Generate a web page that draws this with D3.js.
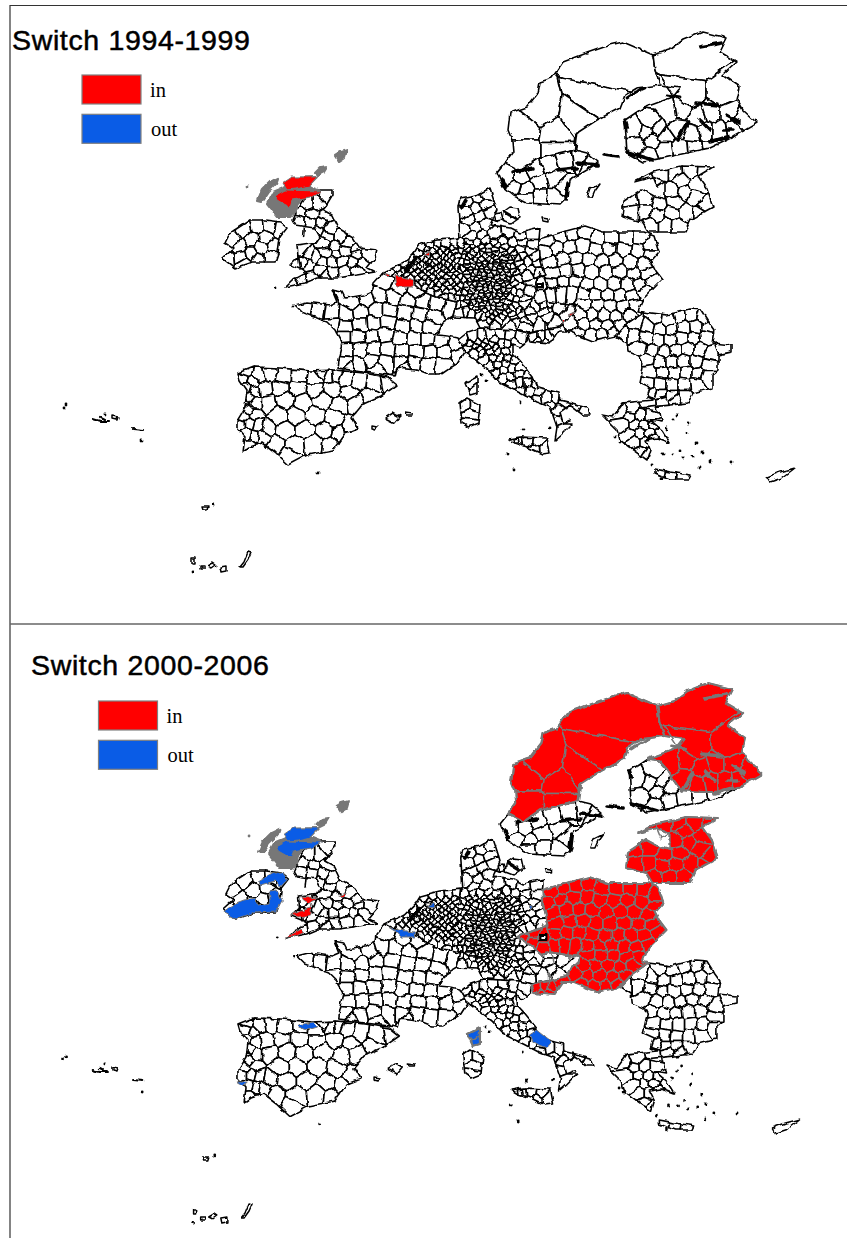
<!DOCTYPE html>
<html>
<head>
<meta charset="utf-8">
<script src="https://cdn.jsdelivr.net/npm/d3@7"></script>
<style>
body { margin: 0; background: #fff; }
svg { display: block; }
</style>
</head>
<body>
<svg id="chart" width="847" height="1238"></svg>
<script>
// Map geometry, in map units

const titles = ['Switch 1994-1999', 'Switch 2000-2006'];
const legendLabels = ['in', 'out'];

const swedenN = [[623,42],[610,45],[587,53],[563,62],[552,78],[540,82],[538,93],[527,107],[510,113],[508,130],[512,140],[513,152],[505,163],[520,171],[537,159],[575,150],[577,133],[597,120],[620,108],[625,95],[637,88],[660,85],[655,70],[653,55],[637,48]];
const swedenNSeeds = [[596,68],[590,100],[540,112],[578,118],[525,130],[555,135],[525,150],[555,150]];
const swedenS = [[505,163],[520,171],[537,159],[575,150],[587,153],[598,162],[587,170],[570,180],[568,197],[560,205],[527,203],[515,197],[503,187],[497,173]];
const swedenSSeeds = [[520,178],[535,170],[550,165],[565,160],[580,158],[590,163],[510,178],[525,190],[540,182],[555,178],[563,187],[540,196],[525,198],[555,197],[515,187]];
const finlandN = [[653,55],[670,50],[683,40],[703,32],[727,38],[720,52],[737,62],[723,75],[740,87],[737,100],[743,110],[757,123],[733,137],[715,141],[698,141],[676,139],[669,129],[663,119],[654,109],[643,108],[673,97],[680,88],[660,85],[655,70]];
const finlandNSeeds = [[695,60],[690,98],[722,98],[668,112],[682,110],[697,118],[712,113],[728,113],[742,120],[680,128],[692,133],[706,130],[720,130],[733,128]];
const finlandS = [[625,120],[643,108],[654,109],[663,119],[669,129],[676,139],[698,141],[715,141],[733,137],[710,148],[677,155],[643,162],[627,153]];
const finlandSSeeds = [[635,130],[650,122],[645,132],[658,130],[637,145],[652,140],[665,135],[665,150],[680,148],[695,147],[712,145],[650,155]];
const baltics = [[634,182],[653,172],[682,166],[713,167],[698,176],[707,189],[713,207],[691,219],[685,232],[648,232],[642,222],[622,216],[624,201],[642,189],[655,196],[665,199],[665,182],[653,177]];
const balticsSeeds = [[645,178],[660,172],[675,172],[690,171],[705,172],[698,185],[680,180],[672,190],[684,192],[630,200],[645,198],[660,204],[675,202],[695,197],[705,206],[632,212],[645,212],[658,215],[672,213],[686,213],[700,214],[650,225],[665,225],[678,226]];

const ireland = [[230,233],[250,220],[265,220],[280,222],[287,228],[280,237],[278,253],[275,262],[253,262],[235,268],[222,258],[233,248],[225,243]];
const irelandSeeds = [[232,240],[245,230],[258,227],[270,226],[281,228],[265,237],[252,238],[238,248],[228,258],[240,257],[252,254],[262,248],[272,246],[270,257],[258,258],[244,264]];
const britain = [[296,211],[308,192],[318,190],[333,190],[333,195],[327,205],[323,210],[332,215],[338,228],[353,237],[360,248],[377,250],[375,258],[367,268],[375,272],[357,275],[337,278],[317,278],[305,283],[285,287],[292,280],[307,272],[290,265],[298,257],[297,245],[317,242],[320,237],[315,228],[295,225],[292,220]];
const britainSeeds = [[326,197],[318,204],[308,204],[302,213],[312,214],[325,215],[300,221],[310,222],[322,223],[330,228],[318,232],[328,237],[340,238],[325,243],[335,246],[348,243],[355,250],[302,250],[308,255],[303,262],[296,263],[310,266],[316,258],[326,252],[336,254],[346,251],[356,254],[368,255],[322,262],[332,262],[342,262],[352,262],[362,263],[320,270],[332,271],[345,270],[357,270],[312,276],[300,278],[293,283],[326,275]];
const highlands = [[293,178],[317,177],[308,186],[318,190],[308,192],[296,205],[296,211],[290,217],[278,217],[267,203],[273,192],[285,187]];
const hebrides = [[258,200],[262,190],[270,182],[278,178],[276,184],[268,192],[262,201]];
const orkney = [[315,173],[320,168],[327,167],[324,172],[318,175]];
const shetland = [[335,155],[340,152],[347,150],[345,157],[339,161]];

const france = [[383,273],[397,280],[415,284],[425,293],[440,298],[457,302],[453,317],[443,323],[437,335],[448,336],[457,338],[465,352],[458,363],[440,375],[430,375],[417,370],[397,368],[395,376],[363,372],[337,368],[338,360],[342,343],[335,330],[327,322],[317,318],[303,313],[295,305],[307,302],[330,305],[337,302],[332,290],[342,292],[345,298],[363,295],[373,290],[374,283]];
const franceSeeds = [[385,282],[400,287],[415,291],[352,303],[367,300],[380,296],[393,297],[408,300],[422,302],[437,305],[451,309],[305,309],[318,311],[332,313],[346,314],[360,312],[375,310],[390,310],[405,313],[420,314],[434,316],[333,324],[345,326],[360,324],[373,323],[388,322],[403,326],[417,326],[430,327],[345,337],[358,337],[372,336],[386,335],[400,338],[414,339],[428,339],[441,340],[455,345],[346,350],[360,350],[374,349],[388,349],[402,351],[416,351],[430,352],[444,352],[458,354],[345,362],[358,364],[372,361],[386,362],[400,362],[414,362],[428,364],[443,365],[376,370],[350,368],[405,368]];
const iberia = [[238,373],[253,367],[280,368],[310,371],[335,370],[363,373],[387,377],[397,385],[380,397],[362,405],[352,417],[358,428],[345,433],[333,450],[307,455],[288,465],[275,453],[262,443],[250,447],[243,452],[245,437],[237,428],[237,420],[245,407],[247,390],[240,380]];
const iberiaSeeds = [[244,378],[252,381],[246,388],[254,391],[249,398],[243,402],[255,403],[248,410],[243,416],[254,415],[241,424],[250,424],[258,426],[247,434],[255,436],[248,446],[246,372],[258,375],[270,373],[283,376],[300,376],[315,378],[322,373],[329,376],[337,375],[345,378],[358,382],[375,384],[388,382],[370,395],[350,393],[332,388],[315,390],[298,388],[280,388],[265,390],[268,403],[285,400],[303,403],[322,400],[340,405],[355,402],[278,416],[296,416],[315,415],[335,418],[350,425],[268,428],[285,430],[305,430],[325,432],[340,435],[262,437],[275,445],[295,445],[315,443],[330,445],[290,455]];
const central = [[383,273],[403,263],[413,253],[418,245],[437,240],[460,238],[458,207],[460,198],[477,195],[490,188],[493,197],[497,210],[490,225],[510,228],[520,233],[540,228],[539,239],[540,256],[545,274],[514,286],[530,296],[539,304],[546,301],[576,306],[574,312],[559,327],[528,333],[517,330],[497,329],[480,328],[475,318],[453,317],[457,302],[440,298],[425,293],[415,284],[397,280]];
const centralSeeds = [
  [468,202],[478,199],[487,195],[466,212],[476,208],[486,205],[470,220],[480,216],[489,212],[465,230],[475,227],[485,224],
  [470,236],[482,235],[495,234],[508,233],[520,236],[532,235],[462,245],[470,243],[478,244],[486,242],[494,243],[503,241],[512,243],[522,243],[532,244],
  [423,248],[430,246],[438,246],[446,245],[454,244],[419,254],[426,253],[433,252],[440,253],[447,252],[454,251],[411,259],[418,260],[425,259],[432,258],[439,259],[446,258],[453,258],[405,264],[412,265],[419,266],[426,265],[433,265],[440,265],[447,264],[454,264],
  [390,272],[397,269],[404,271],[411,271],[418,271],[425,271],[432,271],[439,271],[446,270],[453,270],[460,270],[397,277],[404,277],[411,278],[418,278],[425,278],[432,278],[439,277],[446,277],[453,277],[460,277],[418,285],[425,285],[432,284],[439,284],[446,284],[453,284],[460,284],[432,291],[439,291],[446,291],[453,291],[460,291],[445,298],[452,298],[459,298],
  [461,250],[468,251],[475,249],[482,250],[489,251],[496,249],[503,250],[511,251],[520,249],[530,251],
  [464,256],[471,257],[478,255],[485,256],[492,257],[499,255],[506,256],[514,257],[523,256],[534,257],
  [461,262],[467,263],[473,261],[479,262],[485,263],[491,261],[497,262],[503,263],[510,261],[518,263],[528,262],[537,263],
  [464,268],[470,269],[476,267],[482,268],[488,269],[494,267],[500,268],[506,269],[513,267],[522,268],[532,269],
  [467,274],[473,275],[479,273],[485,274],[491,275],[497,273],[503,274],[509,275],[516,273],[526,274],[538,272],
  [464,280],[470,281],[476,279],[482,280],[488,281],[494,279],[500,280],[506,281],[512,279],
  [467,286],[473,287],[479,285],[485,286],[491,287],[497,285],[503,286],[509,287],
  [464,292],[470,293],[476,291],[482,292],[488,293],[494,291],[500,292],[506,293],[513,291],[520,293],
  [461,298],[467,299],[473,297],[479,298],[485,299],[491,297],[497,298],[503,299],[509,297],[516,299],[524,298],
  [458,304],[464,305],[470,303],[476,304],[482,305],[488,303],[494,304],[500,305],[507,303],[515,305],[525,304],[535,306],[545,305],
  [460,311],[466,310],[472,312],[478,311],[484,310],[491,312],[499,311],[508,310],[518,312],[530,311],[545,311],[560,310],
  [484,316],[492,317],[502,316],[515,318],[530,317],[548,318],[565,315],[485,323],[495,324],[510,324],[525,325],[540,324],[555,322]
];
// the tightest knots of small districts: Germany, the Low Countries, the Alps
const germanyCoreSeeds = [
  [467,265],[473,266],[479,264],[485,265],[491,266],[497,264],[503,265],[509,266],
  [470,271],[476,272],[482,270],[488,271],[494,272],[500,270],[506,271],
  [467,277],[473,278],[479,276],[485,277],[491,278],[497,276],[503,277],[509,278],
  [470,283],[476,284],[482,282],[488,283],[494,284],[500,282],[506,283],
  [467,289],[473,290],[479,288],[485,289],[491,290],[497,288],[503,289],[509,290],
  [470,295],[476,296],[482,294],[488,295],[494,296],[500,294],[506,295],
  [467,301],[473,302],[479,300],[485,301],[491,302],[497,300],[503,301]
];
const germanyNorthSeeds = [[465,247],[473,247],[481,247],[489,246],[497,246],[505,247],[465,253],[473,253],[481,253],[489,254],[497,253],[505,254],[513,253],[468,259],[475,260],[482,259],[489,260],[496,259],[503,260],[510,259],[517,259],[514,271],[518,277],[514,283]];
const beneluxSeeds = [[426,250],[436,249],[444,249],[452,248],[422,257],[429,256],[436,256],[443,256],[450,255],[457,255],[415,262],[422,263],[429,262],[436,262],[443,262],[450,261],[457,261],[408,268],[415,268],[422,268],[429,268],[436,268],[443,267],[450,267],[457,267],[400,274],[407,274],[414,275],[421,275],[428,274],[435,274],[442,274],[449,274],[456,274],[422,282],[429,281],[436,281],[443,281],[450,281],[457,281],[436,288],[443,288],[450,288],[457,288]];
const alpsSeeds = [[470,307],[476,308],[482,307],[488,308],[494,307],[500,308],[506,308],[512,308],[480,314],[488,314],[496,314],[504,313],[512,314],[520,314],[490,320],[498,320],[506,320],[516,321],[526,321]];
const east = [[539,239],[566,231],[585,226],[603,232],[644,232],[654,236],[659,252],[651,261],[656,271],[662,279],[644,297],[638,311],[644,312],[629,322],[616,336],[593,341],[568,331],[559,331],[550,344],[530,342],[527,334],[559,327],[574,312],[576,306],[546,301],[539,304],[530,296],[514,286],[545,274],[540,256]];
const eastSeeds = [[548,240],[560,237],[572,235],[585,232],[598,238],[612,238],[626,238],[640,238],[650,245],[545,252],[557,248],[570,247],[583,246],[596,249],[610,249],[624,250],[638,251],[650,255],[550,262],[563,259],[576,258],[589,259],[602,261],[616,260],[630,262],[644,263],[553,273],[566,270],[579,270],[592,272],[606,272],[620,272],[634,273],[648,274],[520,286],[530,282],[541,286],[530,291],[541,295],[552,283],[563,282],[575,282],[588,284],[601,284],[614,284],[628,285],[640,285],[652,281],[550,293],[561,292],[572,293],[584,294],[596,295],[608,295],[620,296],[632,296],[644,293],[585,304],[597,305],[610,305],[623,306],[634,305],[580,314],[592,314],[604,315],[616,316],[628,314],[572,323],[584,324],[596,325],[608,326],[620,325],[578,333],[590,335],[602,335],[612,332],[533,337],[541,337],[549,337],[557,332],[537,341],[545,341]];
const balkans = [[644,312],[667,315],[690,309],[702,310],[710,323],[715,330],[713,343],[732,345],[732,352],[718,355],[718,370],[712,375],[712,388],[693,393],[688,403],[670,405],[640,408],[660,412],[662,422],[650,420],[662,430],[670,443],[657,438],[645,440],[650,450],[647,460],[633,450],[620,440],[617,430],[602,415],[613,417],[623,403],[653,400],[647,397],[650,387],[639,382],[643,363],[640,357],[628,352],[627,343],[616,336],[629,322]];
const balkansSeeds = [[655,318],[668,320],[680,316],[692,315],[703,318],[636,322],[648,326],[660,329],[672,329],[684,327],[696,326],[708,327],[622,335],[634,335],[646,337],[658,340],[670,340],[682,338],[694,338],[706,337],[725,349],[640,348],[652,350],[664,352],[676,350],[688,349],[700,350],[710,355],[648,360],[660,362],[672,362],[684,361],[696,361],[708,365],[650,372],[662,373],[674,373],[686,373],[698,373],[708,376],[648,383],[660,384],[672,385],[684,385],[696,384],[660,395],[672,396],[684,396],[653,393],[650,403],[662,402],[675,400],[632,408],[622,412],[630,417],[640,416],[650,416],[624,424],[634,424],[644,425],[654,426],[630,433],[640,433],[650,433],[660,433],[636,442],[644,442],[654,438],[640,452],[646,456]];
const italy = [[458,340],[468,332],[480,328],[497,329],[517,330],[528,333],[527,342],[520,348],[513,345],[513,353],[522,363],[533,377],[537,387],[560,393],[560,400],[587,407],[590,415],[583,415],[570,405],[560,412],[563,423],[573,423],[563,433],[555,440],[557,427],[550,407],[537,402],[520,393],[500,383],[488,370],[473,358],[465,352]];
const italySeeds = [[465,340],[473,338],[482,338],[490,336],[500,335],[510,336],[520,338],[468,348],[476,346],[484,345],[492,344],[500,343],[508,344],[516,343],[474,354],[482,352],[490,351],[498,351],[506,352],[512,350],[484,359],[492,358],[500,358],[508,358],[490,365],[498,365],[506,364],[514,360],[496,372],[504,371],[512,368],[520,368],[503,378],[511,376],[519,374],[527,376],[512,384],[520,382],[528,382],[534,384],[522,390],[530,391],[538,393],[537,400],[547,398],[555,398],[565,400],[575,405],[586,411],[550,406],[558,410],[556,420],[560,430],[470,343],[478,342],[486,341],[494,340],[480,349],[488,348],[496,347]];
const sicily = [[508,439],[520,437],[547,438],[550,453],[542,454],[527,447],[515,443]];
const sicilySeeds = [[518,442],[528,441],[538,442],[544,448],[533,449]];
const sardinia = [[460,403],[467,398],[480,405],[478,423],[468,427],[462,423]];
const sardiniaSeeds = [[465,405],[474,405],[470,415],[469,423]];
const corsica = [[465,383],[477,377],[477,393],[470,395]];
const corsicaSeeds = [[470,385],[474,390]];
const crete = [[655,469],[670,472],[690,475],[688,479],[670,479],[655,473]];
const creteSeeds = [[660,472],[670,475],[682,477]];
const cyprus = [[767,477],[780,472],[795,468],[782,478],[770,482]];
const smallIslands = [
  [[385,418],[393,413],[400,417],[395,423]], [[405,413],[412,414],[412,416],[406,416]], [[372,426],[377,427],[376,430],[372,429]],
  [[587,197],[590,188],[600,183],[595,190],[592,197]], [[542,218],[548,219],[548,222],[543,221]],
  [[113,416],[118,417],[117,420],[113,419]], [[202,507],[208,507],[207,510],[203,510]], [[192,558],[195,558],[195,563],[192,563]],
  [[200,566],[204,566],[204,569],[200,569]], [[208,566],[213,563],[216,565],[212,568]], [[220,567],[226,566],[226,571],[221,572]],
  [[240,567],[244,562],[246,557],[248,552],[251,553],[248,560],[243,567]], [[514,439],[519,438],[520,443],[515,443]],
  [[503,212],[510,207],[518,208],[520,217],[510,224],[502,221]], [[494,214],[500,213],[502,220],[496,221]]
];
const islandDots = [[64,408],[66,405],[105,414],[142,441],[213,504],[193,572],[523,430],[508,454],[515,470],[520,402],[550,428],[482,375],[487,380],[318,473],[292,306],[276,287],[677,415],[673,420],[688,424],[687,433],[667,428],[697,443],[702,453],[710,462],[700,468],[680,450],[683,458],[663,454],[673,455],[692,457],[652,465],[732,462],[662,478],[615,437],[620,442],[247,186]];
const islandStrokes = [[[93,419],[100,421],[108,421]],[[100,417],[104,419]],[[133,429],[143,430]]];

const lakesNorth = [[[700,47],[711,45],[722,43]],[[697,103],[717,105]],[[700,120],[710,130]],[[727,115],[740,122]],[[723,130],[733,130]],[[710,142],[727,137]],[[677,140],[687,123]]];
const lakesSouth = [[[603,155],[618,157]],[[627,152],[640,156],[653,160]],[[625,120],[627,127]],[[577,163],[598,165]],[[557,170],[577,168]],[[513,172],[533,168]],[[568,183],[566,200]],[[502,180],[505,187]],[[407,270],[412,264],[417,258]],[[466,200],[462,207]],[[505,212],[515,218]]];
const coastNorth = [[[627,98],[636,92],[645,88]],[[667,95],[680,97]],[[577,133],[575,150]]];

// Regions that changed status, panel by panel
const in1994Patches = [
  [[283,183],[292,177],[317,177],[309,186],[296,189],[287,190]], [[275,196],[286,190],[320,191],[310,197],[292,200],[290,207],[284,204],[277,200]],
  [[395,276],[405,277],[413,281],[412,287],[397,287]], [[384,273],[390,275],[388,277]], [[423,255],[431,252],[430,256]],
  [[562,320],[565,321],[563,324]], [[567,315],[573,312],[570,316]]
];
const in2000Blocks = ['swedenN', 'finlandN', 'baltics', 'east'];
const in2000Patches = [
  [[289,264],[299,259],[309,256],[311,251],[309,264],[297,266]], [[299,245],[316,247],[306,252],[301,249]],
  [[284,286],[299,278],[302,282],[292,286]], [[337,244],[344,241],[342,245]]
];
const out2000Blocks = ['corsica'];
const out2000Patches = [
  [[283,183],[292,177],[317,177],[309,186],[296,189],[287,190]], [[275,196],[286,190],[320,191],[310,197],[292,200],[290,207],[284,204],[277,200]],
  [[257,231],[272,222],[281,222],[286,229],[279,236],[274,230],[259,234]],
  [[222,261],[235,252],[243,249],[255,247],[256,254],[269,252],[268,240],[276,239],[281,250],[275,261],[252,262],[235,268]],
  [[386,276],[396,279],[412,281],[412,286],[399,286],[394,281]], [[425,256],[432,252],[431,257]], [[526,254],[529,255],[527,258]],
  [[296,374],[312,371],[316,376],[306,379],[297,376]], [[236,431],[246,431],[244,435],[239,433]],
  [[526,384],[534,379],[549,391],[544,397],[529,391]]
];
const pragueRing = [[537,284],[543,284],[543,288],[537,288]];

const blocks = [
  { name: 'swedenS', outline: swedenS, seeds: swedenSSeeds }, { name: 'swedenN', outline: swedenN, seeds: swedenNSeeds },
  { name: 'finlandS', outline: finlandS, seeds: finlandSSeeds }, { name: 'finlandN', outline: finlandN, seeds: finlandNSeeds },
  { name: 'ireland', outline: ireland, seeds: irelandSeeds }, { name: 'britain', outline: britain, seeds: britainSeeds },
  { name: 'france', outline: france, seeds: franceSeeds }, { name: 'iberia', outline: iberia, seeds: iberiaSeeds },
  { name: 'central', outline: central, seeds: [...centralSeeds, ...germanyCoreSeeds, ...germanyNorthSeeds, ...beneluxSeeds, ...alpsSeeds] }, { name: 'balkans', outline: balkans, seeds: balkansSeeds },
  { name: 'italy', outline: italy, seeds: italySeeds }, { name: 'sicily', outline: sicily, seeds: sicilySeeds },
  { name: 'sardinia', outline: sardinia, seeds: sardiniaSeeds }, { name: 'crete', outline: crete, seeds: creteSeeds },
  { name: 'baltics', outline: baltics, seeds: balticsSeeds }, { name: 'east', outline: east, seeds: eastSeeds },
  { name: 'corsica', outline: corsica, seeds: corsicaSeeds }
];

const RED = '#ff0000', BLUE = '#0a5ce6', GREY = '#777777';
const svg = d3.select('#chart');

// the old raster map has rough, wandering borders
const rough = svg.append('defs').append('filter').attr('id', 'rough')
  .attr('filterUnits', 'userSpaceOnUse').attr('x', 0).attr('y', 0).attr('width', 847).attr('height', 1238)
  .attr('color-interpolation-filters', 'sRGB');
rough.append('feTurbulence').attr('type', 'fractalNoise').attr('baseFrequency', 0.11).attr('numOctaves', 2).attr('seed', 4).attr('result', 'n');
rough.append('feDisplacementMap').attr('in', 'SourceGraphic').attr('in2', 'n').attr('scale', 5).attr('xChannelSelector', 'R').attr('yChannelSelector', 'G');

// Cut a land outline with a convex cell, keeping the side the seed is on
function clipToCell(outline, cell, seed) {
  let out = outline;
  const n = cell.length;
  for (let i = 0; i < n && out.length; i++) {
    const a = cell[i], b = cell[(i + 1) % n];
    const side = p => (b[0] - a[0]) * (p[1] - a[1]) - (b[1] - a[1]) * (p[0] - a[0]);
    const keep = Math.sign(side(seed));
    const next = [];
    out.forEach((p, j) => {
      const q = out[(j + 1) % out.length];
      const sp = side(p) * keep, sq = side(q) * keep;
      if (sp >= 0) next.push(p);
      if (sp * sq < 0) {
        const t = sp / (sp - sq);
        next.push([p[0] + (q[0] - p[0]) * t, p[1] + (q[1] - p[1]) * t]);
      }
    });
    out = next;
  }
  return out;
}

function regionsOf(block) {
  const delaunay = d3.Delaunay.from(block.seeds);
  const voronoi = delaunay.voronoi([0, 0, 847, 620]);
  return block.seeds.map((seed, i) => clipToCell(block.outline, voronoi.cellPolygon(i), seed)).filter(r => r.length > 2);
}
blocks.forEach(b => { b.regions = regionsOf(b); });

function drawPanel(o) {
  const x = d3.scaleLinear().domain([0, 847]).range(o.xRange);
  const y = d3.scaleLinear().domain([0, 620]).range(o.yRange);
  const ring = d3.line().x(p => x(p[0])).y(p => y(p[1])).curve(d3.curveLinearClosed);
  const open = d3.line().x(p => x(p[0])).y(p => y(p[1]));
  const g = svg.append('g').attr('stroke-linejoin', 'round').attr('filter', 'url(#rough)');

  const polys = (data, fill, stroke, sw) => g.append('g').selectAll('path').data(data).join('path')
    .attr('d', ring).attr('fill', fill).attr('stroke', stroke).attr('stroke-width', sw);
  const lines = (data, stroke, sw) => g.append('g').selectAll('path').data(data).join('path')
    .attr('d', open).attr('fill', 'none').attr('stroke', stroke).attr('stroke-width', sw).attr('stroke-linecap', 'round');

  const colourOf = b => o.inBlocks.includes(b.name) ? RED : o.outBlocks.includes(b.name) ? BLUE : null;
  blocks.filter(b => !colourOf(b)).forEach(b => polys(b.regions, '#fff', '#000', 1.6));
  polys(smallIslands, '#fff', '#000', 1.5);
  polys([cyprus], '#fff', '#000', 1.4);
  lines(lakesSouth, '#000', 3.6);
  lines(islandStrokes, '#000', 2.2);
  blocks.filter(b => colourOf(b)).forEach(b => {
    polys(b.regions, colourOf(b), GREY, 1.5);
    polys([b.outline], 'none', GREY, 2.2);
  });
  lines(lakesNorth, o.inBlocks.includes('finlandN') ? GREY : '#000', 3.6);
  lines(coastNorth, o.inBlocks.includes('swedenN') ? GREY : '#000', 2.8);
  polys([highlands, hebrides, orkney, shetland], GREY, GREY, 2.2);
  polys(o.inPatches, RED, GREY, 1);
  polys(o.outPatches, BLUE, GREY, 1);
  polys([pragueRing], '#fff', '#000', 2);
  g.append('g').selectAll('circle').data(islandDots).join('circle')
    .attr('cx', d => x(d[0])).attr('cy', d => y(d[1])).attr('r', 1.4)
    .attr('fill', d => d[0] === 247 ? GREY : '#000');

  // title and legend
  svg.append('text').attr('x', o.titleX).attr('y', o.titleY)
    .attr('font-family', 'Liberation Sans').attr('font-size', 28.5).attr('letter-spacing', 0.65)
    .attr('stroke', '#000').attr('stroke-width', 0.5).text(o.title);
  [RED, BLUE].forEach((c, i) => {
    svg.append('rect').attr('x', o.legendX).attr('y', o.legendY + i * 39.3)
      .attr('width', 59).attr('height', 29).attr('fill', c).attr('stroke', '#808080').attr('stroke-width', 1.2);
    svg.append('text').attr('x', o.legendX + 68 + i).attr('y', o.legendY + 22 + i * 39.3)
      .attr('font-family', 'Liberation Serif').attr('font-size', 20.5).attr('fill', '#000').text(legendLabels[i]);
  });
}

drawPanel({
  xRange: [0, 847], yRange: [0, 620], title: titles[0], titleX: 12, titleY: 50, legendX: 82, legendY: 75,
  inBlocks: [], outBlocks: [], inPatches: in1994Patches, outPatches: []
});
drawPanel({
  xRange: [-1, 853], yRange: [651, 1271], title: titles[1], titleX: 31, titleY: 675, legendX: 98.5, legendY: 701,
  inBlocks: in2000Blocks, outBlocks: out2000Blocks, inPatches: in2000Patches, outPatches: out2000Patches
});

// frame lines
svg.append('path').attr('d', 'M847,5.5H10V1238').attr('fill', 'none').attr('stroke', '#333').attr('stroke-width', 1.2);
svg.append('path').attr('d', 'M10,624H847').attr('fill', 'none').attr('stroke', '#666').attr('stroke-width', 1.4);
</script>
</body>
</html>
